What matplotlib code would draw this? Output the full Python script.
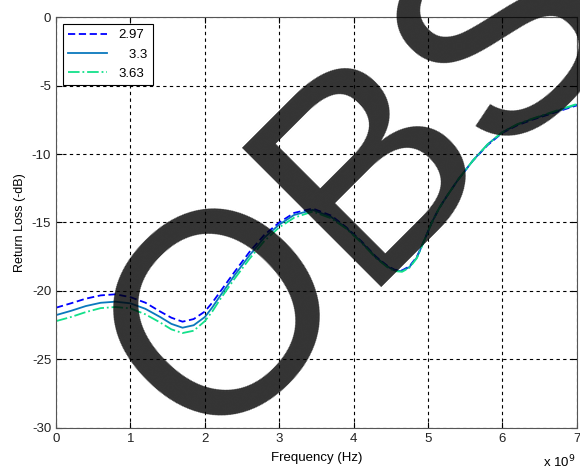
import matplotlib
matplotlib.use("Agg")
import matplotlib.pyplot as plt

plt.rcParams['font.family'] = ['Liberation Sans', 'DejaVu Sans']
plt.rcParams['axes.unicode_minus'] = False

# frequency in units of 1e9 Hz
freq = [0.0, 0.2, 0.4, 0.6, 0.8, 1.0, 1.2, 1.4, 1.55, 1.7, 1.85, 2.0, 2.1, 2.2,
        2.4, 2.6, 2.8, 3.0, 3.2, 3.45, 3.7, 3.9, 4.1, 4.3, 4.45, 4.55, 4.65,
        4.75, 4.85, 4.95, 5.05, 5.15, 5.25, 5.4, 5.6, 5.8, 6.0, 6.2, 6.4, 6.6,
        6.8, 7.0]

rl_297 = [-21.22, -20.9, -20.56, -20.32, -20.24, -20.45, -20.85, -21.5, -21.95,
          -22.24, -22.05, -21.5, -20.85, -20.1, -18.6, -17.15, -15.9, -15.0,
          -14.3, -13.98, -14.5, -15.35, -16.35, -17.5, -18.15, -18.45, -18.5,
          -18.2, -17.5, -16.3, -15.0, -13.95, -13.1, -11.9, -10.5, -9.35,
          -8.45, -7.9, -7.5, -7.15, -6.8, -6.45]

rl_33 = [-21.76, -21.45, -21.1, -20.86, -20.78, -20.9, -21.3, -21.9, -22.4,
         -22.68, -22.5, -21.9, -21.2, -20.4, -18.85, -17.4, -16.1, -15.15,
         -14.45, -14.08, -14.6, -15.4, -16.4, -17.55, -18.2, -18.5, -18.55,
         -18.25, -17.55, -16.3, -15.0, -13.95, -13.1, -11.9, -10.5, -9.3,
         -8.4, -7.85, -7.45, -7.1, -6.75, -6.4]

rl_363 = [-22.2, -21.9, -21.54, -21.25, -21.17, -21.27, -21.7, -22.3, -22.8,
          -23.07, -22.9, -22.2, -21.5, -20.65, -19.1, -17.65, -16.35, -15.35,
          -14.65, -14.2, -14.7, -15.45, -16.45, -17.6, -18.25, -18.55, -18.6,
          -18.3, -17.6, -16.3, -15.0, -13.95, -13.1, -11.9, -10.5, -9.3,
          -8.4, -7.82, -7.42, -7.06, -6.7, -6.35]

labels = ['2.97', '   3.3', '3.63']

fig = plt.figure(figsize=(5.8, 4.7), dpi=100)
ax = fig.add_axes([0.0966, 0.0894, 0.898, 0.8744])

ax.plot(freq, rl_297, color='#0000ff', linestyle=(0, (4, 2)), linewidth=1.3, label=labels[0])
ax.plot(freq, rl_33, color='#0a78bd', linestyle='-', linewidth=1.3, label=labels[1])
ax.plot(freq, rl_363, color='#12e08a', linestyle='-.', linewidth=1.3, label=labels[2])

ax.set_xlim(0, 7)
ax.set_ylim(-30, 0)
ax.set_xticks(range(0, 8))
ax.set_yticks(range(-30, 1, 5))
ax.grid(True, color='black', linestyle=(0, (3, 3)), linewidth=0.8)
ax.tick_params(direction='in', top=True, right=True, labelsize=9.5, length=4,
               labelcolor='#222222')
for s in ax.spines.values():
    s.set_color('#555555')

ax.set_xlabel('Frequency (Hz)', fontsize=9.5, labelpad=5)
ax.set_ylabel('Return Loss (-dB)', fontsize=9, labelpad=4)
fig.text(0.937, 0.005, r'x 10$^{9}$', fontsize=9.5)

leg = ax.legend(loc='upper left', fontsize=9.5, fancybox=False, framealpha=1,
                edgecolor='black', borderaxespad=0.5, handlelength=3.0,
                labelspacing=0.55, borderpad=0.4)
leg.get_frame().set_linewidth(0.8)

# watermark
fig.text(0.7207, 0.4957, 'OBS', fontsize=206, color='black', alpha=0.8,
         rotation=45, rotation_mode='anchor', ha='center', va='baseline',
         family='Liberation Sans')

fig.savefig('out.png', dpi=100)
